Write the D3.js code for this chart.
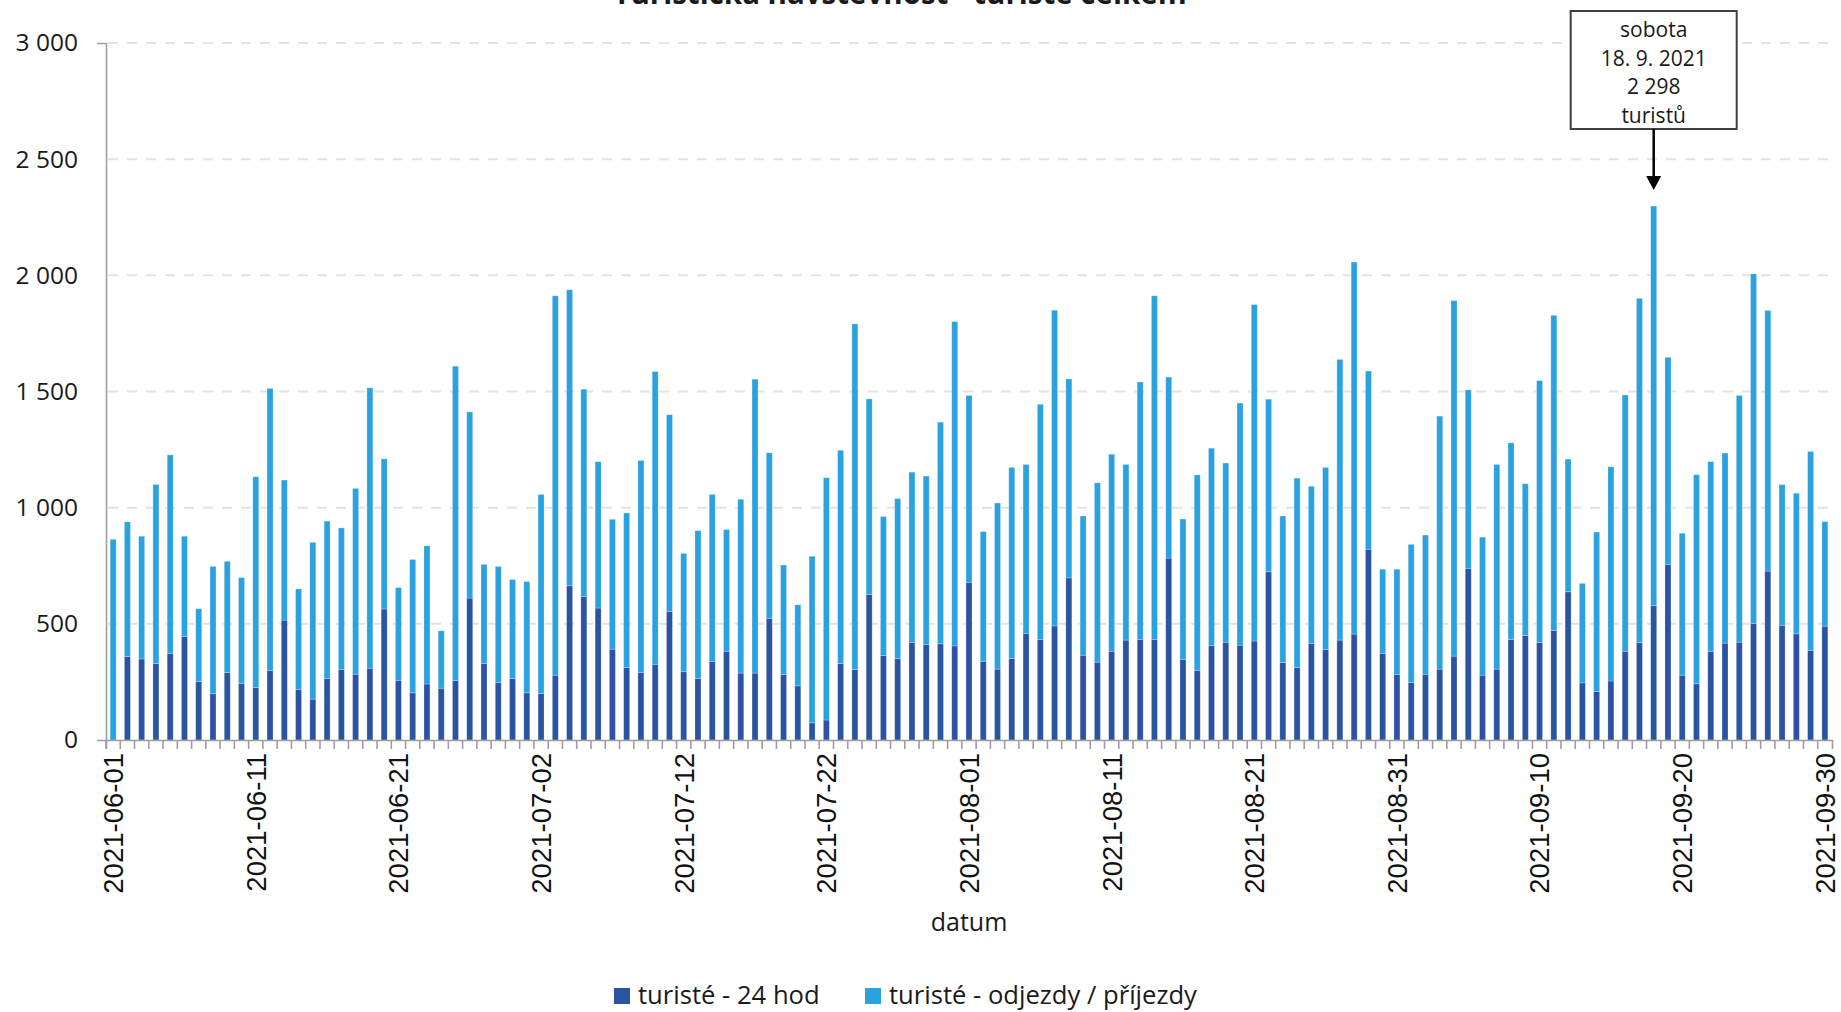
<!DOCTYPE html>
<html><head><meta charset="utf-8">
<script src="https://cdn.jsdelivr.net/npm/d3@7"></script>
<style>body{margin:0;background:#fff;} svg{display:block;}</style>
</head><body><svg id="chart" width="1841" height="1012"></svg>
<script>
const categories = [
"2021-06-01","2021-06-02","2021-06-03","2021-06-04","2021-06-05","2021-06-06","2021-06-07","2021-06-08","2021-06-09","2021-06-10",
"2021-06-11","2021-06-12","2021-06-13","2021-06-14","2021-06-15","2021-06-16","2021-06-17","2021-06-18","2021-06-19","2021-06-20",
"2021-06-21","2021-06-22","2021-06-23","2021-06-24","2021-06-26","2021-06-27","2021-06-28","2021-06-29","2021-06-30","2021-07-01",
"2021-07-02","2021-07-03","2021-07-04","2021-07-05","2021-07-06","2021-07-07","2021-07-08","2021-07-09","2021-07-10","2021-07-11",
"2021-07-12","2021-07-13","2021-07-14","2021-07-15","2021-07-16","2021-07-17","2021-07-18","2021-07-19","2021-07-20","2021-07-21",
"2021-07-22","2021-07-23","2021-07-24","2021-07-25","2021-07-26","2021-07-27","2021-07-28","2021-07-29","2021-07-30","2021-07-31",
"2021-08-01","2021-08-02","2021-08-03","2021-08-04","2021-08-05","2021-08-06","2021-08-07","2021-08-08","2021-08-09","2021-08-10",
"2021-08-11","2021-08-12","2021-08-13","2021-08-14","2021-08-15","2021-08-16","2021-08-17","2021-08-18","2021-08-19","2021-08-20",
"2021-08-21","2021-08-22","2021-08-23","2021-08-24","2021-08-25","2021-08-26","2021-08-27","2021-08-28","2021-08-29","2021-08-30",
"2021-08-31","2021-09-01","2021-09-02","2021-09-03","2021-09-04","2021-09-05","2021-09-06","2021-09-07","2021-09-08","2021-09-09",
"2021-09-10","2021-09-11","2021-09-12","2021-09-13","2021-09-14","2021-09-15","2021-09-16","2021-09-17","2021-09-18","2021-09-19",
"2021-09-20","2021-09-21","2021-09-22","2021-09-23","2021-09-24","2021-09-25","2021-09-26","2021-09-27","2021-09-28","2021-09-29",
"2021-09-30"];

const tickLabels = ["2021-06-01","2021-06-11","2021-06-21","2021-07-02","2021-07-12","2021-07-22",
  "2021-08-01","2021-08-11","2021-08-21","2021-08-31","2021-09-10","2021-09-20","2021-09-30"];

const seriesKeys = ["turisté - 24 hod", "turisté - odjezdy / příjezdy"];
const seriesColors = ["#2a53a0", "#2aa2df"];

const tourists24h = [
0,359,349,329,373,446,252,199,291,244,
226,300,516,218,176,265,304,283,309,564,
257,203,241,223,256,611,329,247,265,203,
200,279,664,617,568,391,312,291,326,554,
294,265,338,382,288,288,524,282,233,74,
86,329,303,627,364,350,420,411,414,405,
679,339,305,351,459,433,491,698,365,335,
382,430,433,433,783,347,300,406,421,408,
426,724,333,312,415,389,430,456,821,373,
282,248,283,305,361,739,279,305,433,450,
420,471,638,246,209,254,382,419,578,756,
279,242,382,417,421,502,727,494,457,386,
490];

const touristsTransit = [
864,580,528,771,854,431,313,548,478,455,
907,1213,603,432,675,677,609,800,1207,646,
399,574,595,247,1353,801,427,500,426,479,
857,1633,1274,893,630,559,665,912,1260,846,
509,636,719,524,748,1265,712,471,349,717,
1043,918,1488,841,598,689,733,725,954,1396,
804,558,715,822,727,1012,1359,856,599,772,
848,756,1108,1479,779,604,841,850,771,1042,
1448,743,631,815,677,784,1208,1601,767,362,
453,594,599,1089,1530,768,594,881,846,653,
1127,1357,571,428,686,922,1103,1482,1720,891,
611,900,816,818,1062,1504,1122,605,605,856,
450];

const yTickValues = [0, 500, 1000, 1500, 2000, 2500, 3000];
const annotationDate = "2021-09-18";
const annotationLines = ["sobota", "18. 9. 2021", "2 298", "turistů"];
const titleText = "Turistická návštěvnost - turisté celkem";
const xAxisTitle = "datum";

const FONT = "'Open Sans', 'Noto Sans', sans-serif";
const m = {left: 106, right: 1832, top: 43, bottom: 740};
const svg = d3.select("#chart");

const rows = categories.map((d, i) => ({date: d, [seriesKeys[0]]: tourists24h[i], [seriesKeys[1]]: touristsTransit[i]}));
const stacked = d3.stack().keys(seriesKeys)(rows);

const x = d3.scaleBand().domain(categories).range([m.left, m.right]).paddingInner(0.58).paddingOuter(0.29);
const y = d3.scaleLinear().domain([0, 3000]).range([m.bottom, m.top]);
const cz = d3.formatLocale({decimal: ",", thousands: " ", grouping: [3], currency: ["", ""]});
const fmt = cz.format(",d");

// grid
svg.append("g").selectAll("line").data(yTickValues.filter(v => v > 0)).join("line")
  .attr("x1", m.left + 2).attr("x2", m.right).attr("y1", d => y(d)).attr("y2", d => y(d))
  .attr("stroke", "#e2e2e2").attr("stroke-width", 2).attr("stroke-dasharray", "10,9");

// bars
svg.append("g").selectAll("g").data(stacked).join("g")
  .attr("fill", (d, i) => seriesColors[i])
  .selectAll("rect").data(d => d).join("rect")
  .attr("x", d => x(d.data.date)).attr("width", x.bandwidth())
  .attr("y", d => y(d[1])).attr("height", d => Math.max(0, y(d[0]) - y(d[1])))
  .attr("stroke", "#ffffff").attr("stroke-opacity", 0.3).attr("stroke-width", 0.8);

// y axis
const gy = svg.append("g").attr("transform", `translate(${m.left},0)`)
  .call(d3.axisLeft(y).tickValues(yTickValues).tickFormat(fmt).tickSizeInner(0).tickSizeOuter(9).tickPadding(28));
gy.select(".domain").attr("stroke", "#9e9e9e").attr("stroke-width", 1.6);
gy.selectAll("text").attr("font-family", FONT).attr("font-size", 24.5).attr("fill", "#1a1a1a");

// x axis
const gx = svg.append("g").attr("transform", `translate(0,${m.bottom})`)
  .call(d3.axisBottom(x).tickValues(tickLabels).tickSizeInner(0).tickSizeOuter(9));
gx.select(".domain").attr("stroke", "#9e9e9e").attr("stroke-width", 1.6);
gx.selectAll(".tick text")
  .attr("transform", "rotate(-90)").attr("text-anchor", "end")
  .attr("x", -13).attr("y", 0).attr("dy", "0.36em")
  .attr("font-family", "'Liberation Sans', Arial, sans-serif").attr("font-size", 27.5).attr("fill", "#111");

// boundary tick marks
const step = x.step(), gap = step - x.bandwidth();
svg.append("g").selectAll("line").data(categories).join("line")
  .attr("x1", d => x(d) - gap / 2).attr("x2", d => x(d) - gap / 2)
  .attr("y1", m.bottom).attr("y2", m.bottom + 9)
  .attr("stroke", "#9e9e9e").attr("stroke-width", 1.6);

// axis title
svg.append("text").attr("x", (m.left + m.right) / 2).attr("y", 931)
  .attr("text-anchor", "middle").attr("font-family", FONT).attr("font-size", 25).attr("fill", "#1a1a1a")
  .text(xAxisTitle);

// title (mostly cut off at top, as in the original)
svg.append("text").attr("x", 900).attr("y", 4)
  .attr("text-anchor", "middle").attr("font-family", FONT).attr("font-weight", "bold").attr("font-size", 29.5).attr("fill", "#1a1a1a")
  .text(titleText);

// legend
const legendX = [614, 865];
const lg = svg.append("g").selectAll("g").data(seriesKeys).join("g")
  .attr("transform", (d, i) => `translate(${legendX[i]},0)`);
lg.append("rect").attr("x", 0).attr("y", 988).attr("width", 16).attr("height", 16)
  .attr("fill", (d, i) => seriesColors[i]);
lg.append("text").attr("x", 24).attr("y", 1004)
  .attr("font-family", FONT).attr("font-size", 25.6).attr("fill", "#1a1a1a").text(d => d);

// annotation
const peak = rows[categories.indexOf(annotationDate)];
const ax = x(annotationDate) + x.bandwidth() / 2;
const peakTop = y(peak[seriesKeys[0]] + peak[seriesKeys[1]]);
const boxW = 166, boxTop = 11, boxH = 118;
const ann = svg.append("g");
ann.append("rect").attr("x", ax - boxW / 2).attr("y", boxTop).attr("width", boxW).attr("height", boxH)
  .attr("fill", "#fff").attr("stroke", "#404040").attr("stroke-width", 2);
ann.selectAll("text").data(annotationLines).join("text")
  .attr("x", ax).attr("y", (d, i) => boxTop + 19 + i * 28.5).attr("dy", "0.35em")
  .attr("text-anchor", "middle").attr("font-family", FONT).attr("font-size", 21).attr("fill", "#1a1a1a")
  .text(d => d);
const tipY = peakTop - 16;
ann.append("line").attr("x1", ax).attr("x2", ax).attr("y1", boxTop + boxH).attr("y2", tipY - 12)
  .attr("stroke", "#000").attr("stroke-width", 2.5);
ann.append("path")
  .attr("d", `M${ax - 7.5},${tipY - 14}L${ax + 7.5},${tipY - 14}L${ax},${tipY}Z`)
  .attr("fill", "#000");
</script>
</body></html>
